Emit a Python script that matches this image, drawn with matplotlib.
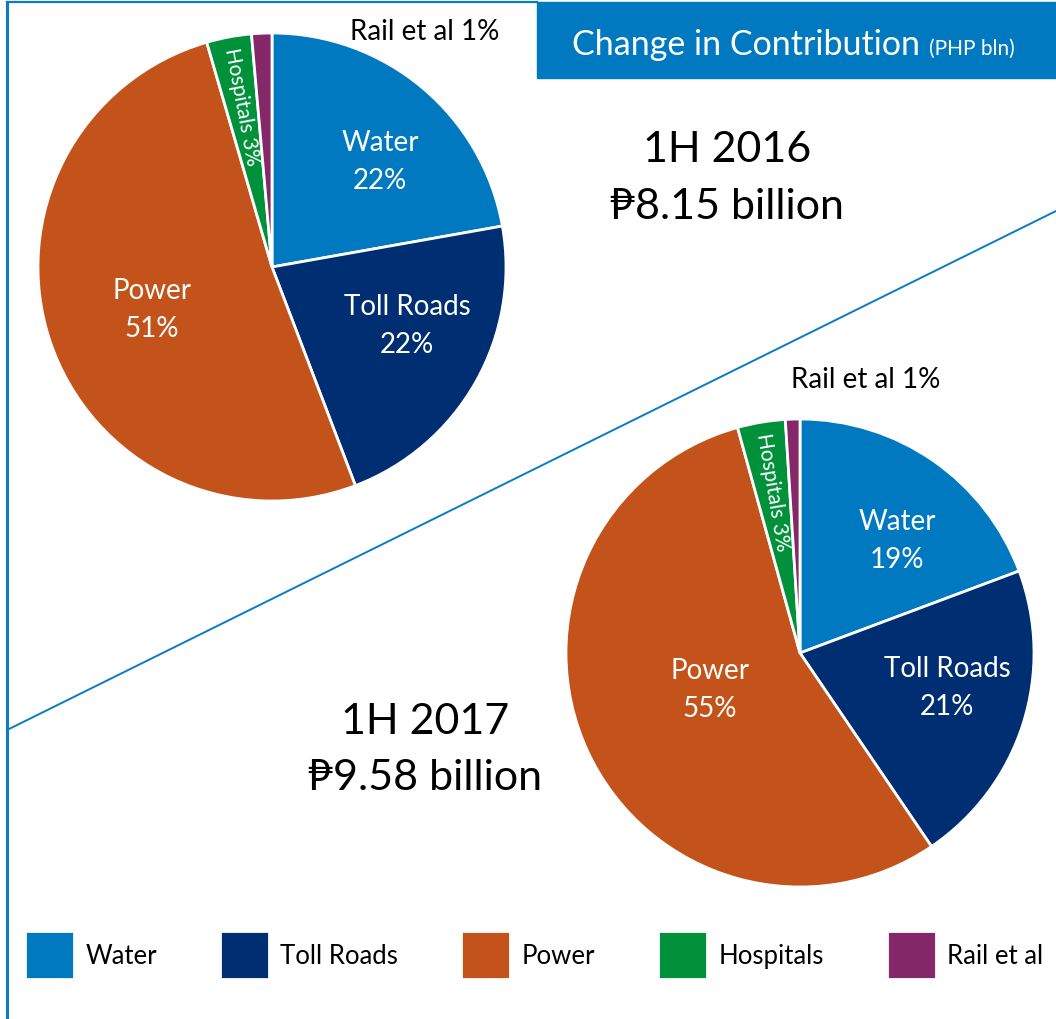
import matplotlib
matplotlib.use("Agg")
import matplotlib.pyplot as plt
from matplotlib.patches import Rectangle
from matplotlib.lines import Line2D
import numpy as np

# Data (shares in %; labels show rounded values)
categories = ["Water", "Toll Roads", "Power", "Hospitals", "Rail et al"]
share_2016 = [22.2, 22.0, 51.3, 3.1, 1.4]
share_2017 = [19.3, 21.2, 55.2, 3.3, 1.0]
totals = ["₱8.15 billion", "₱9.58 billion"]
periods = ["1H 2016", "1H 2017"]

colors = ["#0079C1", "#002E73", "#C4531B", "#00913A", "#84286A"]
border = "#0A7BC4"
FONT = ["Lato", "DejaVu Sans"]

W, H = 1056, 1020
fig = plt.figure(figsize=(W / 100, H / 100), dpi=100)
ax = fig.add_axes([0, 0, 1, 1])

# layout (pixel coords, y down)
pies = [
    dict(values=share_2016, center=(272, 268),
         lab=[(108, -106), (135, 58), (-120, 42)], rail=(153, -236),
         title=(727, 150, 207), period=periods[0], total=totals[0]),
    dict(values=share_2017, center=(800, 654),
         lab=[(97, -113), (147, 34), (-90, 36)], rail=(66, -274),
         title=(425, 722, 778), period=periods[1], total=totals[1]),
]
R = 234

legend_wedges = None
for p in pies:
    vals = p["values"]
    cx, cy = p["center"]
    # y axis is inverted, so counterclock in data = clockwise on screen
    wedges, _ = ax.pie(vals, colors=colors, center=(cx, cy), radius=R,
                       startangle=-90, counterclock=True, frame=True,
                       wedgeprops=dict(edgecolor="white", linewidth=2))
    if legend_wedges is None:
        legend_wedges = wedges

    for i in range(3):
        dx, dy = p["lab"][i]
        ax.text(cx + dx, cy + dy - 19, categories[i], color="white", fontsize=20,
                family=FONT, ha="center", va="center")
        ax.text(cx + dx, cy + dy + 19, f"{vals[i]:.0f}%", color="white", fontsize=20,
                family=FONT, ha="center", va="center")

    # hospitals label runs along the slice
    w = wedges[3]
    mid = np.deg2rad((w.theta1 + w.theta2) / 2)
    hx = cx + 0.70 * R * np.cos(mid)
    hy = cy + 0.70 * R * np.sin(mid)
    ax.text(hx, hy, f"{categories[3]} {vals[3]:.0f}%", color="white",
            fontsize=15, family=FONT, ha="center", va="center",
            rotation=-np.rad2deg(mid) - 180, rotation_mode="anchor")

    dx, dy = p["rail"]
    ax.text(cx + dx, cy + dy, f"{categories[4]} {vals[4]:.0f}%", color="black",
            fontsize=20, family=FONT, ha="center", va="center")

    tx, ty1, ty2 = p["title"]
    ax.text(tx, ty1, p["period"], fontsize=31, family=FONT, ha="center", va="center")
    ax.text(tx, ty2, p["total"], fontsize=31, family=FONT, ha="center", va="center")

ax.set_xlim(0, W)
ax.set_ylim(H, 0)
ax.axis("off")

# frame lines
ax.add_line(Line2D([7, 7], [3, H], color=border, linewidth=2.2))
ax.add_line(Line2D([7, 537], [3, 3], color=border, linewidth=1.6))
ax.add_line(Line2D([7, W], [731, 212], color=border, linewidth=1.4))

# title box
ax.add_patch(Rectangle((537, 3), W - 537, 76, color="#0079C1", zorder=3))
t1 = ax.text(572, 55, "Change in Contribution", color="white", fontsize=24.5,
             family=FONT, ha="left", va="baseline", zorder=4)
fig.canvas.draw()
bb = t1.get_window_extent()
x_end = ax.transData.inverted().transform((bb.x1, bb.y0))[0]
ax.text(x_end + 9, 55, "(PHP bln)", color="white", fontsize=15,
        family=FONT, ha="left", va="baseline", zorder=4)

leg = fig.legend(legend_wedges, categories, loc="center left",
                 bbox_to_anchor=(25 / W, 1 - 956 / H), ncol=5, frameon=False,
                 prop=dict(family=FONT, size=18.5), handlelength=1.9,
                 handleheight=2.55, handletextpad=0.45, columnspacing=2.45,
                 borderpad=0, borderaxespad=0)

fig.savefig("out.png", dpi=100)
